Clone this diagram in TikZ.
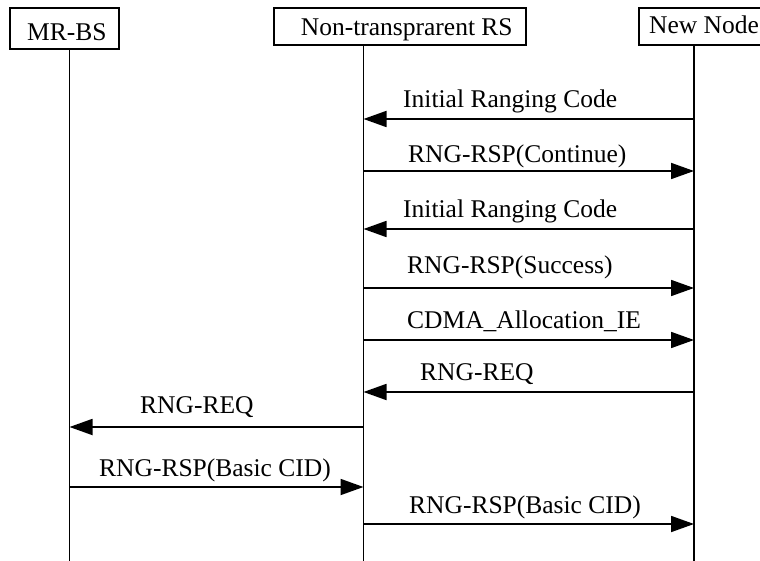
\documentclass[tikz,border=0pt]{standalone}
\usepackage{fontspec}
\setmainfont{Liberation Serif}
\usetikzlibrary{arrows.meta}
\tikzset{
  lifebox/.style={draw, line width=1.3pt, inner sep=0pt},
  lbl/.style={inner sep=0pt, anchor=base west, font=\fontsize{25.5}{30}\selectfont},
  lifeline/.style={line width=1.3pt},
  msg/.style={line width=1.8pt, -{Triangle[length=23pt,width=16pt]}}
}
\begin{document}
\begin{tikzpicture}[x=1pt,y=-1pt]
\useasboundingbox (0,0) rectangle (760,561);
% boxes
\node[lifebox, minimum width=109pt, minimum height=41pt] (mrbox) at (64.5,28.5) {};
\node[lifebox, minimum width=252pt, minimum height=37pt] (rsbox) at (400,26.5) {};
\node[lifebox, minimum width=131pt, minimum height=37pt] (nnbox) at (704.5,26.5) {};
\node[lbl] (mrtxt) at (27,41) {MR-BS};
\node[lbl] (rstxt) at (300.7,36) {Non-transprarent RS};
\node[lbl] (nntxt) at (649,34) {New Node};
% lifelines
\coordinate (mrbot) at (69.5,561);
\coordinate (rsbot) at (363.5,561);
\coordinate (nnbot) at (694,561);
\draw[lifeline] (mrbox.south -| mrbot) -- (mrbot);
\draw[lifeline] (rsbox.south -| rsbot) -- (rsbot);
\draw[lifeline] (nnbox.south -| nnbot) -- (nnbot);
% message rows
\coordinate (m1) at (0,119);
\coordinate (m2) at (0,171);
\coordinate (m3) at (0,229);
\coordinate (m4) at (0,288);
\coordinate (m5) at (0,340);
\coordinate (m6) at (0,392);
\coordinate (m7) at (0,427);
\coordinate (m8) at (0,487);
\coordinate (m9) at (0,524);
\draw[msg] (m1 -| nnbot) -- (m1 -| rsbot);
\draw[msg] (m2 -| rsbot) -- (m2 -| nnbot);
\draw[msg] (m3 -| nnbot) -- (m3 -| rsbot);
\draw[msg] (m4 -| rsbot) -- (m4 -| nnbot);
\draw[msg] (m5 -| rsbot) -- (m5 -| nnbot);
\draw[msg] (m6 -| nnbot) -- (m6 -| rsbot);
\draw[msg] (m7 -| rsbot) -- (m7 -| mrbot);
\draw[msg] (m8 -| mrbot) -- (m8 -| rsbot);
\draw[msg] (m9 -| rsbot) -- (m9 -| nnbot);
% labels
\node[lbl] (l1) at (403,108) {Initial Ranging Code};
\node[lbl] (l2) at (408,163) {RNG-RSP(Continue)};
\node[lbl] (l3) at (403,218) {Initial Ranging Code};
\node[lbl] (l4) at (407,274) {RNG-RSP(Success)};
\node[lbl] (l5) at (407,328) {CDMA\_Allocation\_IE};
\node[lbl] (l6) at (420,380) {RNG-REQ};
\node[lbl] (l7) at (140,413) {RNG-REQ};
\node[lbl] (l8) at (99,476) {RNG-RSP(Basic CID)};
\node[lbl] (l9) at (409,513) {RNG-RSP(Basic CID)};
\end{tikzpicture}
\end{document}
